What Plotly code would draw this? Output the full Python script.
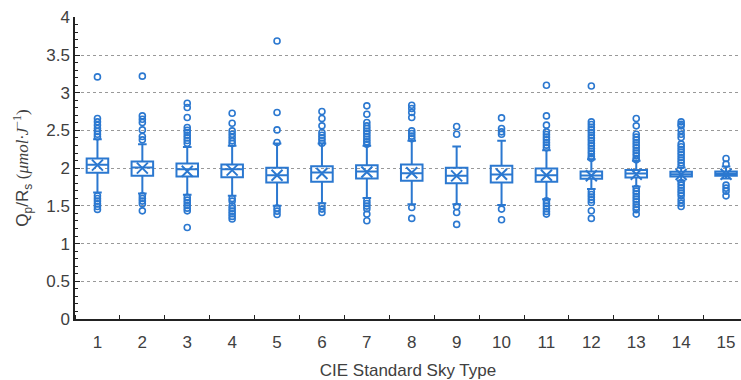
import plotly.graph_objects as go

categories = list(range(1, 16))
tick_labels = [str(c) for c in categories]

q1 = [1.938, 1.898, 1.890, 1.881, 1.810, 1.819, 1.863, 1.832, 1.801, 1.810, 1.819, 1.858, 1.876, 1.890, 1.898]
median = [2.044, 2.009, 1.987, 1.987, 1.907, 1.943, 1.956, 1.934, 1.898, 1.916, 1.907, 1.903, 1.929, 1.920, 1.925]
q3 = [2.128, 2.088, 2.062, 2.049, 2.004, 2.026, 2.040, 2.049, 2.004, 2.031, 1.996, 1.956, 1.974, 1.951, 1.956]
lower_whisker = [1.678, 1.664, 1.647, 1.633, 1.501, 1.536, 1.603, 1.523, 1.520, 1.510, 1.589, 1.722, 1.757, 1.832, 1.863]
upper_whisker = [2.384, 2.318, 2.282, 2.296, 2.327, 2.327, 2.296, 2.362, 2.287, 2.362, 2.238, 2.119, 2.097, 2.009, 2.022]
mean = [2.040, 2.000, 1.960, 1.974, 1.907, 1.930, 1.950, 1.940, 1.898, 1.920, 1.907, 1.900, 1.920, 1.915, 1.920]

outliers = [
    [3.21, 2.658, 2.614, 2.570, 2.526, 2.486, 2.450, 2.415, 1.633, 1.598, 1.563, 1.527, 1.492, 1.453],
    [3.22, 2.693, 2.649, 2.605, 2.507, 2.420, 2.375, 1.633, 1.598, 1.563, 1.527, 1.434],
    [2.861, 2.804, 2.672, 2.539, 2.503, 2.472, 2.437, 2.401, 2.367, 2.331, 1.612, 1.576, 1.540, 1.506, 1.470, 1.434, 1.214],
    [2.728, 2.596, 2.494, 2.450, 2.406, 2.362, 2.327, 1.598, 1.563, 1.501, 1.466, 1.430, 1.395, 1.360, 1.325],
    [3.686, 2.737, 2.507, 2.340, 1.470, 1.430, 1.386],
    [2.751, 2.658, 2.561, 2.472, 2.437, 2.401, 2.367, 2.331, 1.501, 1.457, 1.413],
    [2.826, 2.715, 2.605, 2.561, 2.526, 2.490, 2.455, 2.420, 2.384, 2.349, 2.318, 1.567, 1.532, 1.497, 1.461, 1.391, 1.302],
    [2.834, 2.790, 2.737, 2.672, 2.494, 2.460, 2.424, 2.389, 1.479, 1.334],
    [2.552, 2.450, 1.490, 1.413, 1.254],
    [2.666, 2.526, 2.481, 2.450, 1.457, 1.315],
    [3.100, 2.693, 2.570, 2.481, 2.446, 2.411, 2.375, 2.340, 2.305, 2.269, 1.567, 1.532, 1.497, 1.461, 1.426, 1.391],
    [3.090, 2.614, 2.578, 2.543, 2.507, 2.472, 2.437, 2.401, 2.367, 2.331, 2.296, 2.261, 2.225, 2.190, 2.155, 2.130,
     1.686, 1.651, 1.616, 1.580, 1.545, 1.435, 1.334],
    [2.658, 2.561, 2.450, 2.411, 2.375, 2.340, 2.305, 2.269, 2.234, 2.199, 2.163, 2.128, 2.110,
     1.730, 1.695, 1.660, 1.625, 1.589, 1.554, 1.519, 1.483, 1.448, 1.391],
    [2.614, 2.583, 2.561, 2.500, 2.450, 2.406, 2.318, 2.283, 2.247, 2.212, 2.177, 2.141, 2.106, 2.071, 2.036,
     1.810, 1.775, 1.740, 1.704, 1.669, 1.634, 1.580, 1.536, 1.492],
    [2.128, 2.053, 1.775, 1.735, 1.695, 1.633],
]

blue = "#2B78D0"
grey_text = "#404040"

fig = go.Figure()

fig.add_trace(go.Box(
    x=categories,
    q1=q1, median=median, q3=q3,
    lowerfence=lower_whisker, upperfence=upper_whisker,
    boxpoints=False,
    width=0.48,
    whiskerwidth=0.4,
    line=dict(color=blue, width=2),
    fillcolor="rgba(255,255,255,0)",
    showlegend=False,
    hoverinfo="skip",
))

ox, oy = [], []
for c, vals in zip(categories, outliers):
    for v in vals:
        ox.append(c)
        oy.append(v)

fig.add_trace(go.Scatter(
    x=ox, y=oy, mode="markers",
    marker=dict(symbol="circle-open", size=6, color=blue, line=dict(width=1.6, color=blue)),
    showlegend=False, hoverinfo="skip",
))

fig.add_trace(go.Scatter(
    x=categories, y=mean, mode="markers",
    marker=dict(symbol="x-thin-open", size=11, color=blue, line=dict(width=2, color=blue)),
    showlegend=False, hoverinfo="skip",
))

fig.update_layout(
    width=741, height=380,
    margin=dict(l=75, r=0, t=17, b=61),
    paper_bgcolor="white", plot_bgcolor="white",
    font=dict(family="Liberation Sans, Arial, sans-serif", size=17, color=grey_text),
    xaxis=dict(
        range=[0.5, 15.333],
        tickvals=categories, ticktext=tick_labels,
        ticks="", showgrid=False, zeroline=False,
        showline=True, linecolor="#222222", linewidth=1.5,
        minor=dict(tick0=0.5, dtick=1, ticks="inside", ticklen=4, tickcolor="#222222", showgrid=False),
        ticklabelstandoff=7,
        title=dict(text="CIE Standard Sky Type", standoff=14, font=dict(size=17)),
        tickfont=dict(size=17),
    ),
    yaxis=dict(
        range=[0, 4.004],
        tickvals=[0, 0.5, 1, 1.5, 2, 2.5, 3, 3.5, 4],
        ticktext=["0", "0.5", "1", "1.5", "2", "2.5", "3", "3.5", "4"],
        ticks="inside", ticklen=5, tickcolor="#222222",
        showline=True, linecolor="#222222", linewidth=1.5,
        showgrid=True, gridcolor="#999999", griddash="3px,3px", gridwidth=1,
        zeroline=False,
        minor=dict(dtick=0.1, tick0=0, ticks="inside", ticklen=3, tickcolor="#222222", showgrid=False),
        title=dict(
            text="Q<sub>p</sub>/R<sub>s</sub> <span style=\"font-family:'Liberation Serif'\">(<i>μmol·J</i><sup>−1</sup>)</span>",
            standoff=13, font=dict(size=17),
        ),
        tickfont=dict(size=17),
    ),
)

fig.write_html("out.html")
